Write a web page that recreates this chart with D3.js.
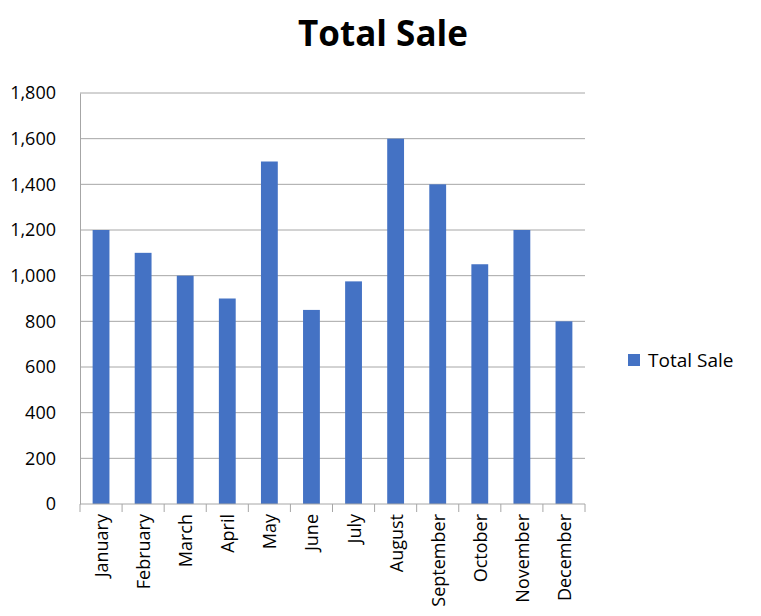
<!DOCTYPE html>
<html>
<head>
<meta charset="utf-8">
<script src="https://cdn.jsdelivr.net/npm/d3@7"></script>
<style>
  body { margin: 0; background: #fff; }
  svg { font-family: "Open Sans", sans-serif; }
</style>
</head>
<body>
<svg id="chart" width="761" height="616"></svg>
<script>
const months = ["January", "February", "March", "April", "May", "June",
  "July", "August", "September", "October", "November", "December"];
const totalSale = [1200, 1100, 1000, 900, 1500, 850, 975, 1600, 1400, 1050, 1200, 800];
const yTicks = [0, 200, 400, 600, 800, 1000, 1200, 1400, 1600, 1800];

const svg = d3.select("#chart");
const plotLeft = 80, plotRight = 585, plotTop = 93, plotBottom = 504;

const x = d3.scaleBand().domain(months).range([plotLeft, plotRight]).paddingInner(0.6).paddingOuter(0.3);
const xb = d3.scaleBand().domain(months).range([plotLeft, plotRight]);
const y = d3.scaleLinear().domain([0, 1800]).range([plotBottom, plotTop]);

// gridlines
svg.append("g")
  .selectAll("line")
  .data(yTicks.filter(d => d > 0))
  .join("line")
  .attr("x1", plotLeft).attr("x2", plotRight)
  .attr("y1", d => y(d)).attr("y2", d => y(d))
  .attr("stroke", "#a6a6a6").attr("stroke-width", 1);

// bars
svg.append("g")
  .selectAll("rect")
  .data(totalSale)
  .join("rect")
  .attr("x", (d, i) => x(months[i]))
  .attr("y", d => y(d))
  .attr("width", x.bandwidth())
  .attr("height", d => plotBottom - y(d))
  .attr("fill", "#4472c4");

// y axis
const yAxis = svg.append("g")
  .attr("transform", `translate(${plotLeft},0)`)
  .call(d3.axisLeft(y).tickValues(yTicks).tickSize(0).tickPadding(24));
yAxis.select(".domain").attr("stroke", "#a6a6a6");
yAxis.selectAll("text").attr("font-size", 18).attr("fill", "#000")
  .attr("font-family", "Open Sans, sans-serif");

// x axis
const xAxis = svg.append("g").attr("transform", `translate(0,${plotBottom})`);
xAxis.append("line").attr("x1", plotLeft).attr("x2", plotRight).attr("stroke", "#a6a6a6");
xAxis.selectAll("line.tk")
  .data(months.concat(["end"]))
  .join("line").attr("class", "tk")
  .attr("x1", (d, i) => plotLeft + i * xb.bandwidth())
  .attr("x2", (d, i) => plotLeft + i * xb.bandwidth())
  .attr("y1", 0).attr("y2", 8)
  .attr("stroke", "#a6a6a6");
xAxis.selectAll("text")
  .data(months)
  .join("text")
  .attr("transform", d => `translate(${xb(d) + xb.bandwidth() / 2 + 7},10) rotate(-90)`)
  .attr("text-anchor", "end")
  .attr("font-size", 18)
  .text(d => d);

// title
svg.append("text")
  .attr("x", 383).attr("y", 46)
  .attr("text-anchor", "middle")
  .attr("font-size", 35).attr("font-weight", "bold")
  .text("Total Sale");

// legend
svg.append("rect").attr("x", 628).attr("y", 354).attr("width", 12).attr("height", 12).attr("fill", "#4472c4");
svg.append("text").attr("x", 648).attr("y", 367).attr("font-size", 19).text("Total Sale");
</script>
</body>
</html>
